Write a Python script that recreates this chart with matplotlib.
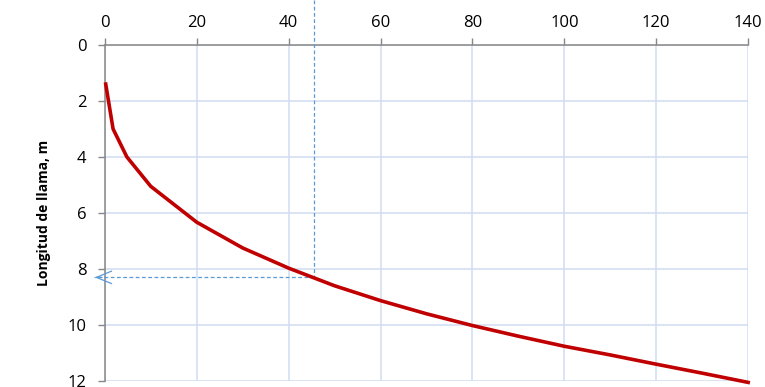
import matplotlib
matplotlib.use('Agg')
import matplotlib.pyplot as plt

# flame curve
x_vals = [0.2, 1.8, 4.8, 10, 20, 30, 40, 50, 60, 70, 80, 90, 100, 110, 120, 130, 140]
y_vals = [1.4, 3.0, 4.0, 5.05, 6.33, 7.25, 7.97, 8.6, 9.13, 9.6, 10.02, 10.4, 10.76, 11.07, 11.4, 11.72, 12.05]

x_ticks = [0, 20, 40, 60, 80, 100, 120, 140]
y_ticks = [0, 2, 4, 6, 8, 10, 12]

# reading guide
read_x = 45.5
read_y = 8.3
arrow_tip = -2.8
guide_top = -1.6

plt.rcParams['font.family'] = ['Open Sans', 'DejaVu Sans']

fig = plt.figure(figsize=(7.65, 3.87), dpi=100)
ax = fig.add_axes([0.137, 0.0155, 0.841, 0.8685])

ax.plot(x_vals, y_vals, color='#C00000', lw=2.6, solid_joinstyle='round', clip_on=False, zorder=4)

# dashed guide lines
guide_col = '#5B9BD5'
ax.plot([read_x, read_x], [guide_top, read_y], color=guide_col, lw=0.9, ls=(0, (3, 2)), clip_on=False, zorder=3)
ax.plot([read_x, arrow_tip + 0.5], [read_y, read_y], color=guide_col, lw=0.9, ls=(0, (3, 2)), clip_on=False, zorder=3)
ax.annotate('', xy=(arrow_tip, read_y), xytext=(0, read_y),
            arrowprops=dict(arrowstyle='->,head_length=1.1,head_width=0.45', color=guide_col, lw=0.9),
            annotation_clip=False, zorder=3)

ax.set_xlim(0, 140)
ax.set_ylim(12, 0)
ax.set_xticks(x_ticks)
ax.set_yticks(y_ticks)
ax.xaxis.tick_top()
ax.tick_params(axis='both', labelsize=12, color='#868686', length=5, width=1, labelcolor='#000000')
ax.tick_params(axis='x', pad=5)
ax.tick_params(axis='y', pad=8)

ax.grid(True, color='#D0DCF3', lw=1.1)
ax.set_axisbelow(True)
for side in ['right', 'bottom']:
    ax.spines[side].set_visible(False)
for side in ['top', 'left']:
    ax.spines[side].set_color('#868686')
    ax.spines[side].set_linewidth(1.1)

ax.set_ylabel('Longitud de llama, m', fontsize=10, fontweight='bold', labelpad=12)

fig.savefig('out.png', dpi=100)
